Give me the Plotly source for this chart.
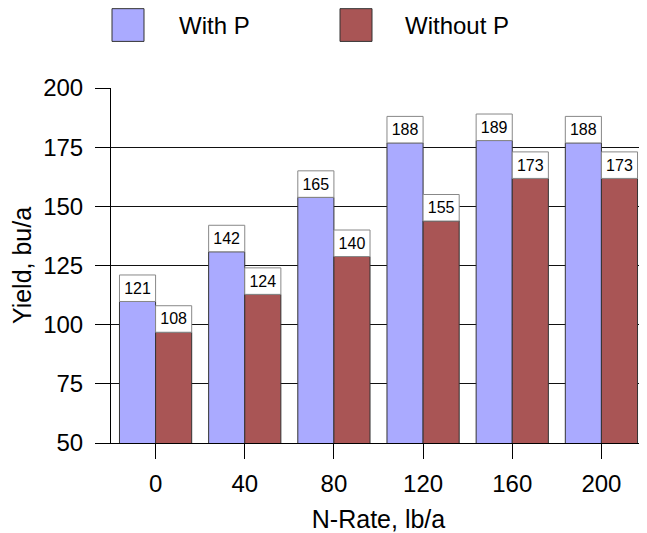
import plotly.graph_objects as go

n_rates = ["0", "40", "80", "120", "160", "200"]
with_p = [121, 142, 165, 188, 189, 188]
without_p = [108, 124, 140, 155, 173, 173]
series_names = ["With P", "Without P"]
y_ticks = [50, 75, 100, 125, 150, 175, 200]

LABEL_H = 11.2  # height of the value label box, in data units
colors = ["#AAAAFF", "#A95555"]
FONT = "Liberation Sans, Arial, sans-serif"

fig = go.Figure()
for name, vals, col, grp in zip(series_names, [with_p, without_p], colors, ["a", "b"]):
    fig.add_trace(go.Bar(
        x=n_rates, y=[v - LABEL_H for v in vals], name=name, offsetgroup=grp,
        marker=dict(color=col, line=dict(color="#333333", width=1)),
        showlegend=False, hoverinfo="skip"))
    fig.add_trace(go.Bar(
        x=n_rates, y=[LABEL_H] * len(vals), base=[v - LABEL_H for v in vals],
        offsetgroup=grp, text=[str(v) for v in vals], textposition="inside",
        insidetextanchor="middle", textangle=0,
        textfont=dict(size=16, color="black", family=FONT),
        marker=dict(color="white", line=dict(color="#888888", width=1)),
        showlegend=False, hoverinfo="skip"))

# page body has an 8px margin: figure is placed at (8, 8)
OFF = 8
W, H = 647 - OFF, 533 - OFF
L, T, B, R = 111 - OFF, 88 - OFF, 87, 1
pw, ph = W - L - R, H - T - B
def px(x): return (x - OFF - L) / pw
def py(y): return (H - B - (y - OFF)) / ph

leg = [(112, 144, 177, series_names[0], colors[0]), (340, 372, 403, series_names[1], colors[1])]
for x0, x1, tx, name, col in leg:
    fig.add_shape(type="rect", xref="paper", yref="paper",
                  x0=px(x0), x1=px(x1), y0=py(41), y1=py(8),
                  fillcolor=col, line=dict(color="#333333", width=1))
    fig.add_annotation(xref="paper", yref="paper", x=px(tx), y=py(25),
                       text=name, showarrow=False, xanchor="left", yanchor="middle",
                       font=dict(size=24, color="black", family=FONT))

fig.update_layout(
    width=W, height=H, margin=dict(l=L, r=R, t=T, b=B),
    barmode="group", bargap=0.19, bargroupgap=0,
    plot_bgcolor="white", paper_bgcolor="white",
    font=dict(family=FONT, color="black"),
    xaxis=dict(type="category", showline=True, linecolor="black", linewidth=1,
               ticks="outside", ticklen=15, tickcolor="black", tickwidth=1,
               tickfont=dict(size=24), showgrid=False, ticklabelstandoff=4,
               title=dict(text="N-Rate, lb/a", font=dict(size=25), standoff=18)),
    yaxis=dict(range=[50, 200], tickvals=y_ticks, showline=True, linecolor="black",
               linewidth=1, ticks="outside", ticklen=15, tickcolor="black",
               tickfont=dict(size=24), showgrid=True, gridcolor="#111111", gridwidth=1,
               zeroline=False, ticklabelstandoff=7,
               title=dict(text="Yield, bu/a", font=dict(size=25), standoff=10)),
)
fig.write_html("out.html")
